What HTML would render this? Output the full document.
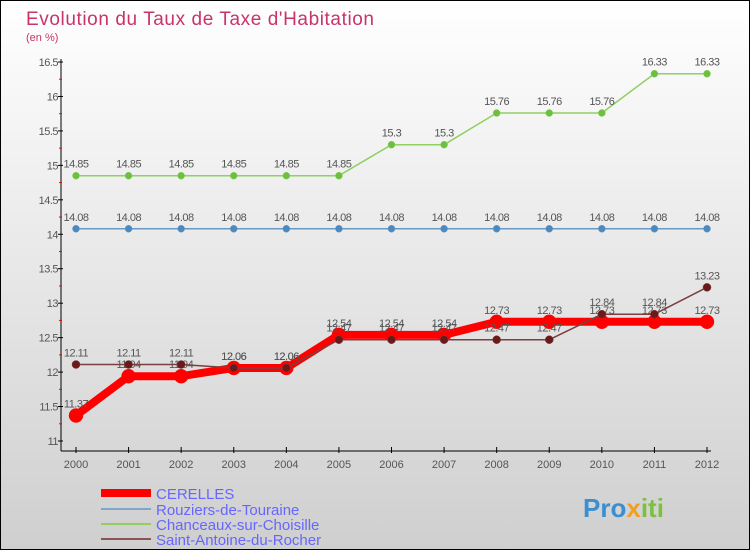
<!DOCTYPE html>
<html><head><meta charset="utf-8"><style>
body{margin:0}
#c{width:748px;height:548px;border:1px solid #000;background:linear-gradient(#fff,#cfcfcf);position:relative;overflow:hidden}
svg text{font-family:"Liberation Sans",sans-serif}
</style></head><body>
<div id="c">
<svg id="s" width="748" height="548" xmlns="http://www.w3.org/2000/svg">
<text x="25" y="24" font-size="19" fill="#c8336a" textLength="348">Evolution du Taux de Taxe d'Habitation</text>
<text x="25" y="40" font-size="11" fill="#c8336a">(en %)</text>
<g id="g"></g>
<g>
<line x1="100" y1="492" x2="150" y2="492" stroke="#f00" stroke-width="8"/>
<text x="155" y="498" font-size="15" fill="#6666ff">CERELLES</text>
<line x1="100" y1="508" x2="150" y2="508" stroke="#7fa8c8" stroke-width="2"/>
<text x="155" y="514" font-size="15" fill="#6666ff">Rouziers-de-Touraine</text>
<line x1="100" y1="523" x2="150" y2="523" stroke="#8fd060" stroke-width="2"/>
<text x="155" y="529" font-size="15" fill="#6666ff">Chanceaux-sur-Choisille</text>
<line x1="100" y1="538" x2="150" y2="538" stroke="#8a5555" stroke-width="2"/>
<text x="155" y="544" font-size="15" fill="#6666ff">Saint-Antoine-du-Rocher</text>
</g>
<text x="582" y="516" font-size="26" font-weight="bold" fill="#3a8fd0">Pro<tspan fill="#f0a020">x</tspan><tspan fill="#7cc040">iti</tspan></text>
</svg>
</div>
<script>
const years=[2000,2001,2002,2003,2004,2005,2006,2007,2008,2009,2010,2011,2012];
const yTicks=[11,11.5,12,12.5,13,13.5,14,14.5,15,15.5,16,16.5];
const cerelles=[11.37,11.94,11.94,12.06,12.06,12.54,12.54,12.54,12.73,12.73,12.73,12.73,12.73];
const rouziers=[14.08,14.08,14.08,14.08,14.08,14.08,14.08,14.08,14.08,14.08,14.08,14.08,14.08];
const chanceaux=[14.85,14.85,14.85,14.85,14.85,14.85,15.3,15.3,15.76,15.76,15.76,16.33,16.33];
const saintAntoine=[12.11,12.11,12.11,12.06,12.06,12.47,12.47,12.47,12.47,12.47,12.84,12.84,13.23];
const NS='http://www.w3.org/2000/svg';
const g=document.getElementById('g');
const X=i=>75+i*(631/(years.length-1));
const Y=v=>61+(16.5-v)*(379/5.5);
function el(t,a){const e=document.createElementNS(NS,t);for(const k in a)e.setAttribute(k,a[k]);g.appendChild(e);return e;}
let ax=el('line',{x1:60,y1:58,x2:60,y2:450,stroke:'#000'});


let bx=el('line',{x1:60,y1:450,x2:710,y2:450,stroke:'#000'});


yTicks.forEach(v=>{
 el('line',{x1:57,y1:Y(v),x2:62,y2:Y(v),stroke:'#000'});
 if(v<16.5) el('line',{x1:58,y1:Y(v+0.25),x2:61,y2:Y(v+0.25),stroke:'#f00'});
 const t=el('text',{x:57,y:Y(v)+4,'font-size':11,fill:'#555','text-anchor':'end','letter-spacing':'-0.5'});t.textContent=String(v);
 
 
});
years.forEach((yr,i)=>{
 el('line',{x1:X(i),y1:446,x2:X(i),y2:452,stroke:'#000'});
 const t=el('text',{x:X(i),y:467,'font-size':11,fill:'#555','text-anchor':'middle'});t.textContent=yr;
 
 
});
function series(data,color,w,r,name,dot){
 const p=el('polyline',{points:data.map((v,i)=>X(i)+','+Y(v)).join(' '),fill:'none',stroke:color,'stroke-width':w,'stroke-linejoin':'round'});
 
 
 data.forEach((v,i)=>{
  const c=el('circle',{cx:X(i),cy:Y(v),r:r,fill:dot,stroke:color,'stroke-width':0.5});
  
  
  const t=el('text',{x:X(i),y:Y(v)-8,'font-size':11,fill:'#555','text-anchor':'middle','letter-spacing':'-0.5'});t.textContent=String(v);
  
  
 });
}
series(rouziers,'#6a9ac0',1.5,3.5,'rouziers','#4a8ac0');
series(chanceaux,'#8fd060',1.5,3.5,'chanceaux','#6cc040');
series(cerelles,'#f00',8,7,'cerelles','#f00');
series(saintAntoine,'#7a4040',1.5,4,'saint-antoine','#6a1a1a');
</script>
</body></html>
